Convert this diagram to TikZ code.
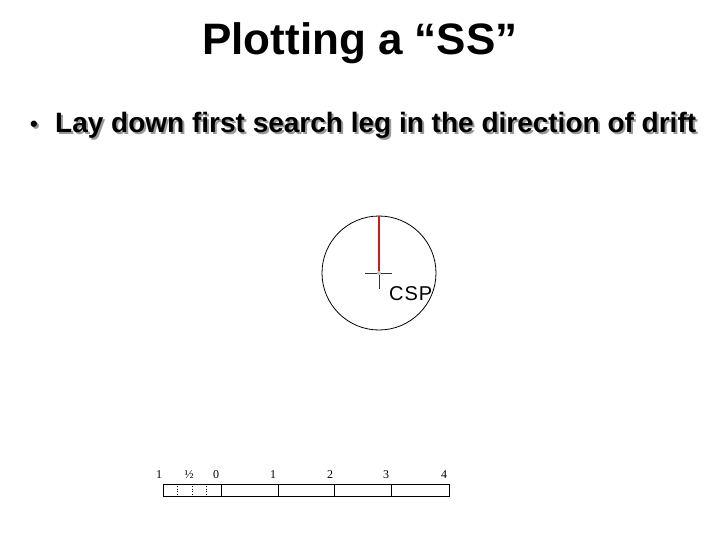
\documentclass[tikz,border=0pt]{standalone}
\usepackage{fontspec}
\setmainfont{Liberation Sans}
\newfontfamily\serifnum{Liberation Serif}
\definecolor{legred}{RGB}{205,25,35}
\newcommand{\shadowtext}[1]{\rlap{\kern2pt\raisebox{-2pt}{\textcolor{black!40}{#1}}}#1}
\begin{document}
\begin{tikzpicture}[x=1pt,y=-1pt,
  titletext/.style={font=\fontsize{44}{48}\bfseries\selectfont,inner sep=0pt},
  bullettext/.style={font=\fontsize{28}{32}\bfseries\selectfont,inner sep=0pt},
  scalelab/.style={font=\serifnum\fontsize{12}{12}\selectfont,inner sep=0pt,anchor=base},
  thinline/.style={line width=0.8pt,black}]
\useasboundingbox[fill=white] (0,0) rectangle (720,540);
% title
\node[titletext,anchor=base] (title) at (360,55) {Plotting a “SS”};
% bullet with shadow
\node[bullettext,anchor=base west] (bullet) at (55,133) {\shadowtext{Lay down first search leg in the direction of drift}};
\node[font=\fontsize{22}{24}\bfseries\selectfont,inner sep=0pt,anchor=base] (dot) at (34,132) {\shadowtext{•}};
% circle and CSP
\coordinate (csp) at (379,273);
\node[draw,thinline,circle,minimum size=114pt,inner sep=0pt] (area) at (csp) {};
\draw[line width=1.2pt,legred] (csp) -- (area.north);
\coordinate (crossL) at (365,273);
\coordinate (crossR) at (392,273);
\coordinate (crossD) at (379,289);
\draw[line width=0.7pt,black!80] (crossL) -- (crossR);
\draw[line width=0.7pt,black!80] (csp) -- (crossD);
\fill[black!25] (csp) circle (2);
\node[font=\fontsize{20}{20}\selectfont,inner sep=0pt,anchor=base west] (csplab) at (389,300) {C\kern1ptS\kern1ptP};
% scale bar
\node[draw,thinline,minimum width=286pt,minimum height=12pt,inner sep=0pt,anchor=north west] (bar) at (163,484) {};
\foreach \xx/\nm in {221/t0,278/t1,334/t2,391/t3}{
  \coordinate (\nm a) at (\xx,484);
  \coordinate (\nm b) at (\xx,496);
  \draw[thinline] (\nm a) -- (\nm b);
}
\foreach \xx/\nm in {177.5/q1,192/q2,206.5/q3}{
  \coordinate (\nm a) at (\xx,486);
  \coordinate (\nm b) at (\xx,496);
  \draw[line width=0.7pt,dotted] (\nm a) -- (\nm b);
}
\node[scalelab] (l1) at (159,478) {1};
\node[scalelab] (lh) at (189,478) {½};
\node[scalelab] (l0) at (216,478) {0};
\node[scalelab] (lA) at (273,478) {1};
\node[scalelab] (lB) at (330,478) {2};
\node[scalelab] (lC) at (386,478) {3};
\node[scalelab] (lD) at (444,478) {4};
\end{tikzpicture}
\end{document}
